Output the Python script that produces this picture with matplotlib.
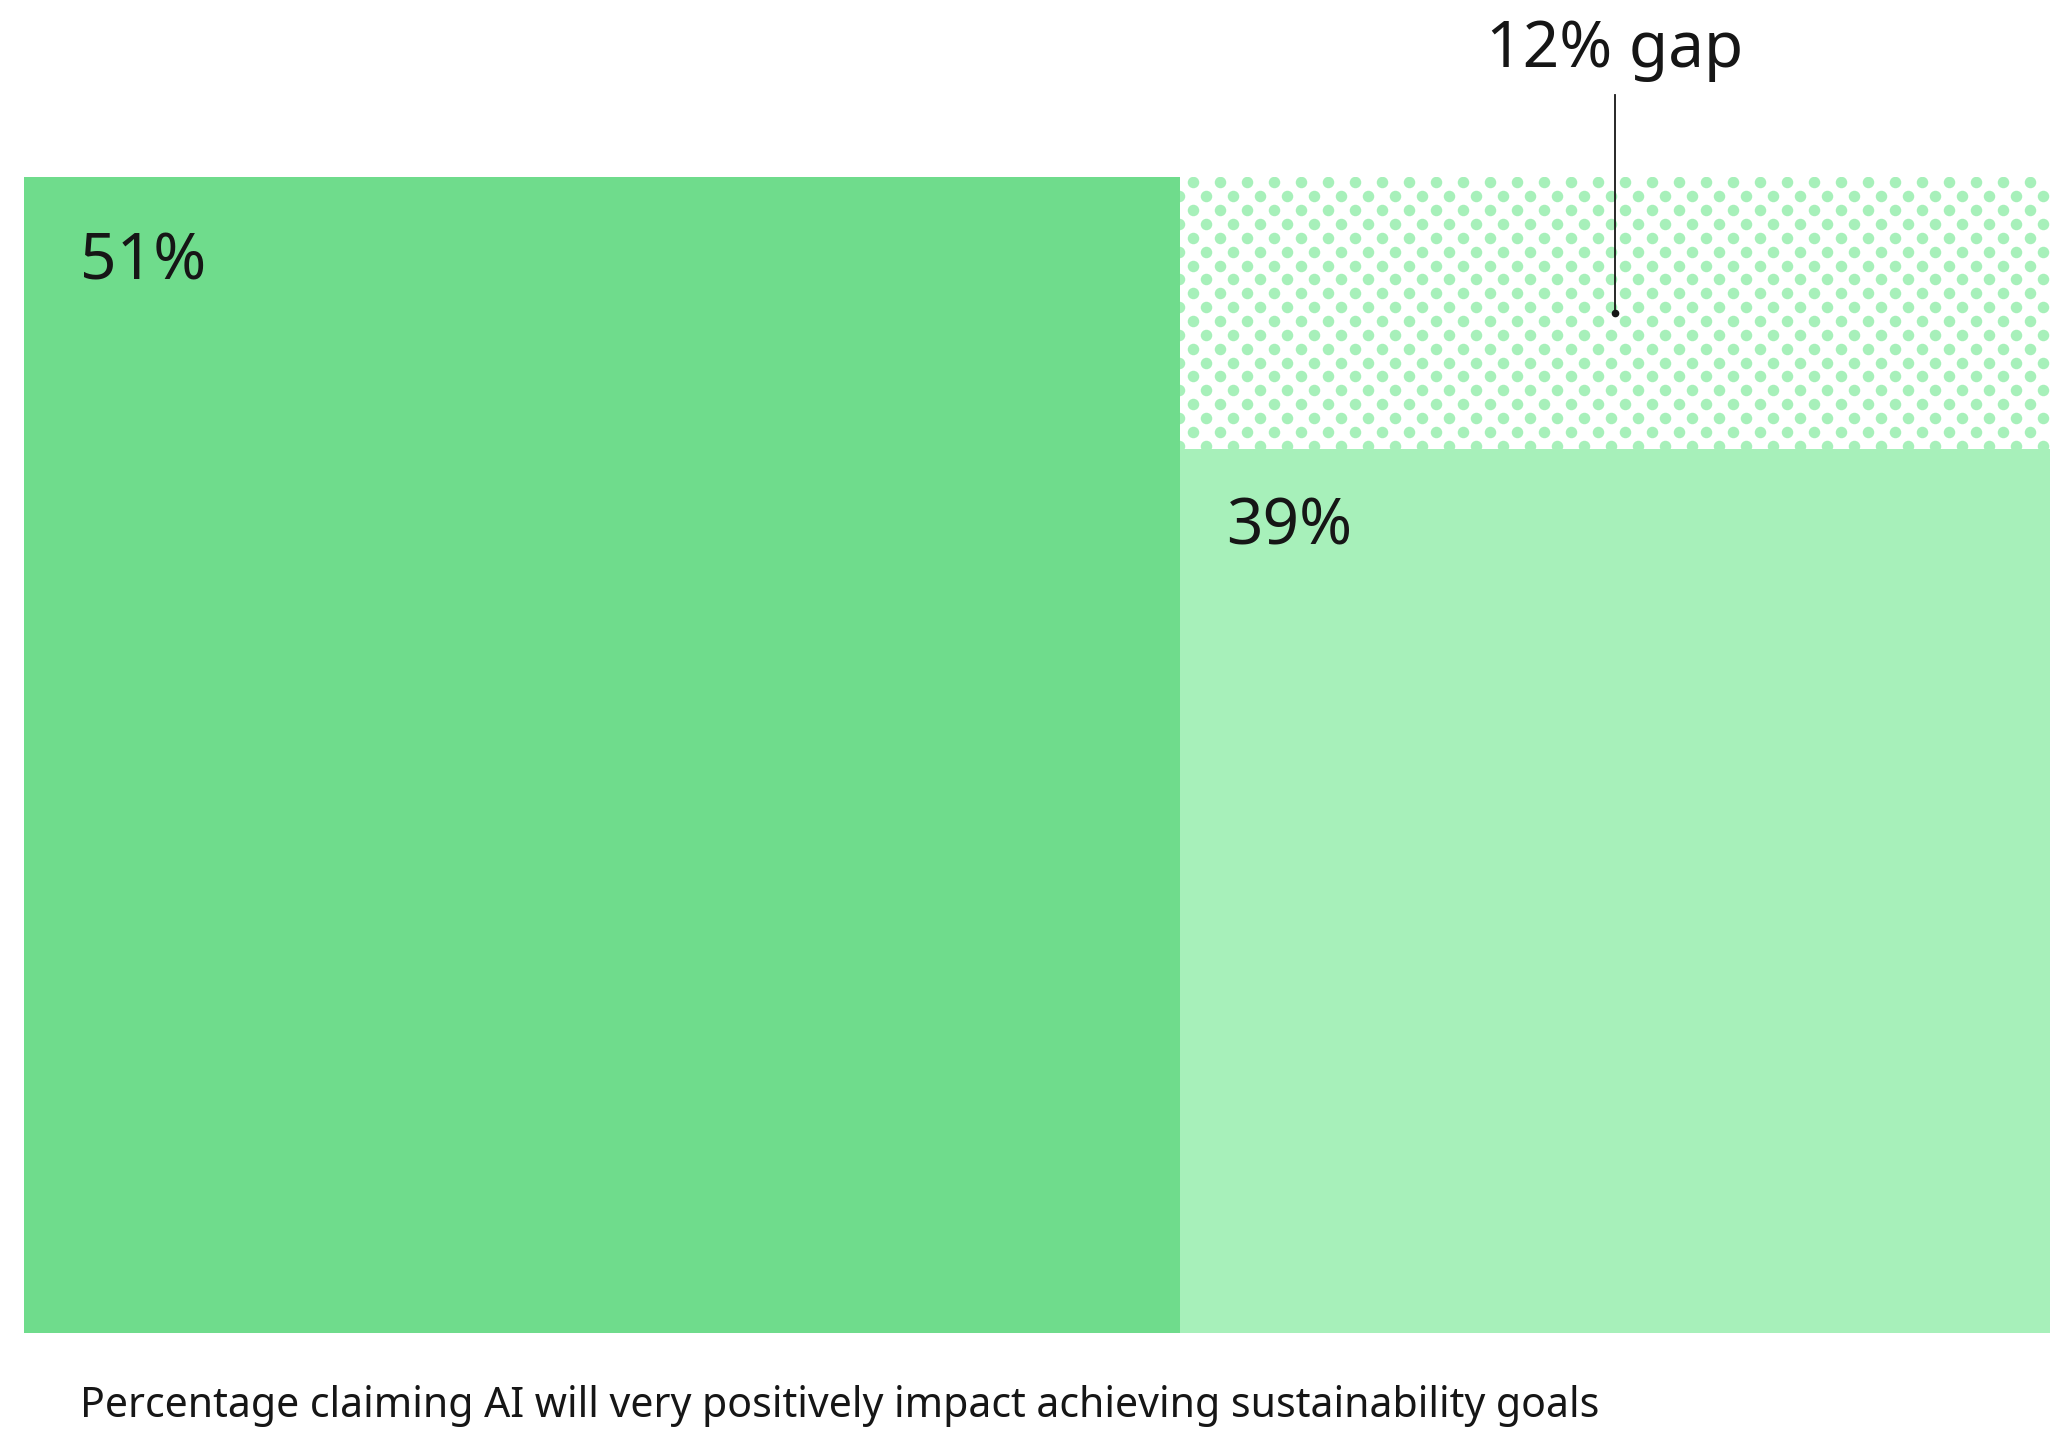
import matplotlib.pyplot as plt
from matplotlib.transforms import IdentityTransform
import numpy as np

plt.rcParams['font.family'] = ['Noto Sans', 'DejaVu Sans']

# Data
groups = ["Group A", "Group B"]
values = [51, 39]
caption = "Percentage claiming AI will very positively impact achieving sustainability goals"

# Colours
DARK_GREEN = "#6FDC8C"
LIGHT_GREEN = "#A7F0BA"
INK = "#161616"

W, H, DPI = 2050, 1429, 100
fig = plt.figure(figsize=(W / DPI, H / DPI), dpi=DPI)

# Axes run past the right edge so the second bar is cut off
bar_px = 1156
left_px, bottom_px, top_px = 24, 1332.7, 177
ax = fig.add_axes([left_px / W, (H - bottom_px) / H,
                   2 * bar_px / W, (bottom_px - top_px) / H])
ax.set_xlim(-0.5, 1.5)
ax.set_ylim(0, max(values))
ax.axis("off")

x = np.arange(len(values))
bars = ax.bar(x, values, width=1.0, color=[DARK_GREEN, LIGHT_GREEN], linewidth=0)

# Dotted region showing the gap above the lower bar
gap = values[0] - values[1]
gap_bar = ax.bar(x[1], gap, bottom=values[1], width=1.0, color="none", linewidth=0)[0]

fig.canvas.draw()
x0, y0 = ax.transData.transform((x[1] - 0.5, values[1]))
x1, y1 = ax.transData.transform((x[1] + 0.5, values[0]))
dx, dy = 27.0, 13.87
pts = []
row = 0
yy = y1 - 5.3
while yy > y0 - 7:
    shift = 0 if row % 2 == 0 else dx / 2
    xx = x0 + 12.7 + shift - dx
    while xx < x1 + dx:
        pts.append((xx, yy))
        xx += dx
    yy -= dy
    row += 1
pts = np.array(pts)
dots = ax.scatter(pts[:, 0], pts[:, 1], s=(11.5 * 72 / DPI) ** 2, color=LIGHT_GREEN,
                  linewidths=0, transform=IdentityTransform(), zorder=2)
dots.set_clip_path(gap_bar)

# Value labels inside the bars
label_offsets = [(40, -74), (33, -69)]
for bar, v, off in zip(bars, values, label_offsets):
    ax.annotate(f"{v}%", xy=(bar.get_x(), bar.get_height()), xytext=off,
                textcoords="offset points", ha="left", va="baseline",
                fontsize=46, color=INK, zorder=4)

# Gap callout, centred over the visible part of the second bar
call_x = (0.5 * (1180 + W) - left_px) / bar_px - 0.5
mid = (values[0] + values[1]) / 2
line_top = ax.transData.inverted().transform((0, H - 95))[1]
ax.plot([call_x, call_x], [mid, line_top], color=INK, lw=1.3,
        clip_on=False, zorder=5)
ax.plot(call_x, mid, "o", color=INK, ms=4.5, zorder=5)
ax.annotate(f"{gap}% gap", xy=(call_x, line_top), xytext=(0, 20),
            textcoords="offset points", ha="center", va="baseline",
            fontsize=46, color=INK, annotation_clip=False)

fig.text(80 / W, (H - 1416.7) / H, caption, ha="left", va="baseline",
         fontsize=29.5, color=INK)

fig.savefig("out.png", dpi=DPI)
